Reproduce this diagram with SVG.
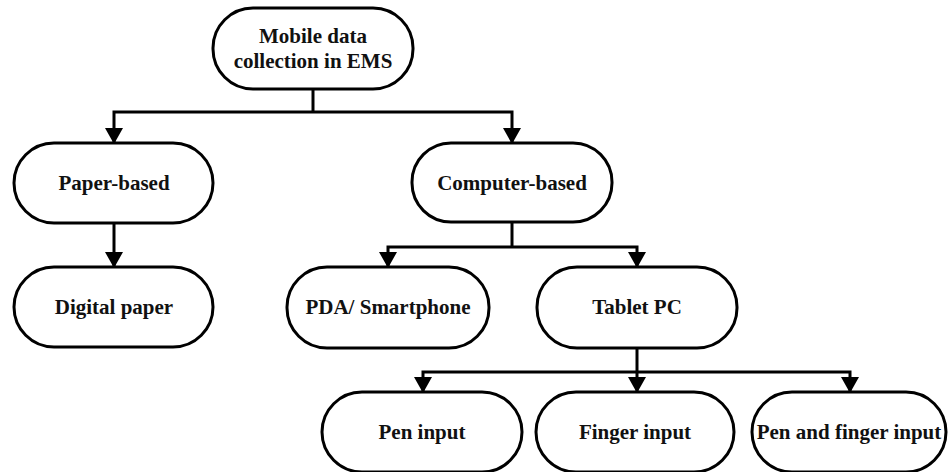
<svg xmlns="http://www.w3.org/2000/svg" width="948" height="472" viewBox="0 0 948 472">
  <defs>
    <style>
      .node { fill: #ffffff; stroke: #000000; stroke-width: 3; }
      .label { font-family: 'Liberation Serif', 'DejaVu Serif', serif; font-weight: 700; font-size: 21px; fill: #111111; text-anchor: middle; }
      .conn { fill: none; stroke: #000000; stroke-width: 3; stroke-linejoin: miter; stroke-linecap: butt; }
    </style>
    <marker id="arrow" markerUnits="userSpaceOnUse" markerWidth="18" markerHeight="18" viewBox="0 0 16 18" refX="15" refY="9" orient="auto">
      <path d="M0,0 L16,9 L0,18 z" fill="#000000"/>
    </marker>
  </defs>
  <rect width="948" height="472" fill="#ffffff"/>

  <g id="connectors">
    <path class="conn" d="M313,89 V112"/>
    <path class="conn" d="M313,112 H114 V143" marker-end="url(#arrow)"/>
    <path class="conn" d="M313,112 H512 V143" marker-end="url(#arrow)"/>
    <path class="conn" d="M114,223 V267" marker-end="url(#arrow)"/>
    <path class="conn" d="M512,222 V247"/>
    <path class="conn" d="M512,247 H388 V267" marker-end="url(#arrow)"/>
    <path class="conn" d="M512,247 H637 V267" marker-end="url(#arrow)"/>
    <path class="conn" d="M637,348 V372"/>
    <path class="conn" d="M637,372 H423 V392" marker-end="url(#arrow)"/>
    <path class="conn" d="M637,372 V392" marker-end="url(#arrow)"/>
    <path class="conn" d="M637,372 H850 V392" marker-end="url(#arrow)"/>
  </g>

  <g id="node-root">
    <rect class="node" x="213" y="8" width="200" height="81" rx="40" ry="40"/>
    <text class="label" x="313" y="43" font-family="Liberation Serif, serif">Mobile data</text>
    <text class="label" x="313" y="68" font-family="Liberation Serif, serif">collection in EMS</text>
  </g>
  <g id="node-paper">
    <rect class="node" x="14" y="143" width="199" height="80" rx="40" ry="40"/>
    <text class="label" x="114" y="190" font-family="Liberation Serif, serif">Paper-based</text>
  </g>
  <g id="node-digital">
    <rect class="node" x="14" y="267" width="199" height="80" rx="40" ry="40"/>
    <text class="label" x="114" y="314" font-family="Liberation Serif, serif">Digital paper</text>
  </g>
  <g id="node-computer">
    <rect class="node" x="412" y="143" width="200" height="79" rx="39" ry="39"/>
    <text class="label" x="512" y="190" font-family="Liberation Serif, serif">Computer-based</text>
  </g>
  <g id="node-pda">
    <rect class="node" x="287" y="267" width="202" height="81" rx="40" ry="40"/>
    <text class="label" x="388" y="314" font-family="Liberation Serif, serif">PDA/ Smartphone</text>
  </g>
  <g id="node-tablet">
    <rect class="node" x="537" y="267" width="200" height="81" rx="40" ry="40"/>
    <text class="label" x="637" y="314" font-family="Liberation Serif, serif">Tablet PC</text>
  </g>
  <g id="node-pen">
    <rect class="node" x="322" y="392" width="200" height="80" rx="40" ry="40"/>
    <text class="label" x="422" y="439" font-family="Liberation Serif, serif">Pen input</text>
  </g>
  <g id="node-finger">
    <rect class="node" x="536" y="392" width="198" height="80" rx="40" ry="40"/>
    <text class="label" x="635" y="439" font-family="Liberation Serif, serif">Finger input</text>
  </g>
  <g id="node-penfinger">
    <rect class="node" x="752" y="392" width="194" height="80" rx="40" ry="40"/>
    <text class="label" x="849" y="439" font-family="Liberation Serif, serif">Pen and finger input</text>
  </g>
</svg>
